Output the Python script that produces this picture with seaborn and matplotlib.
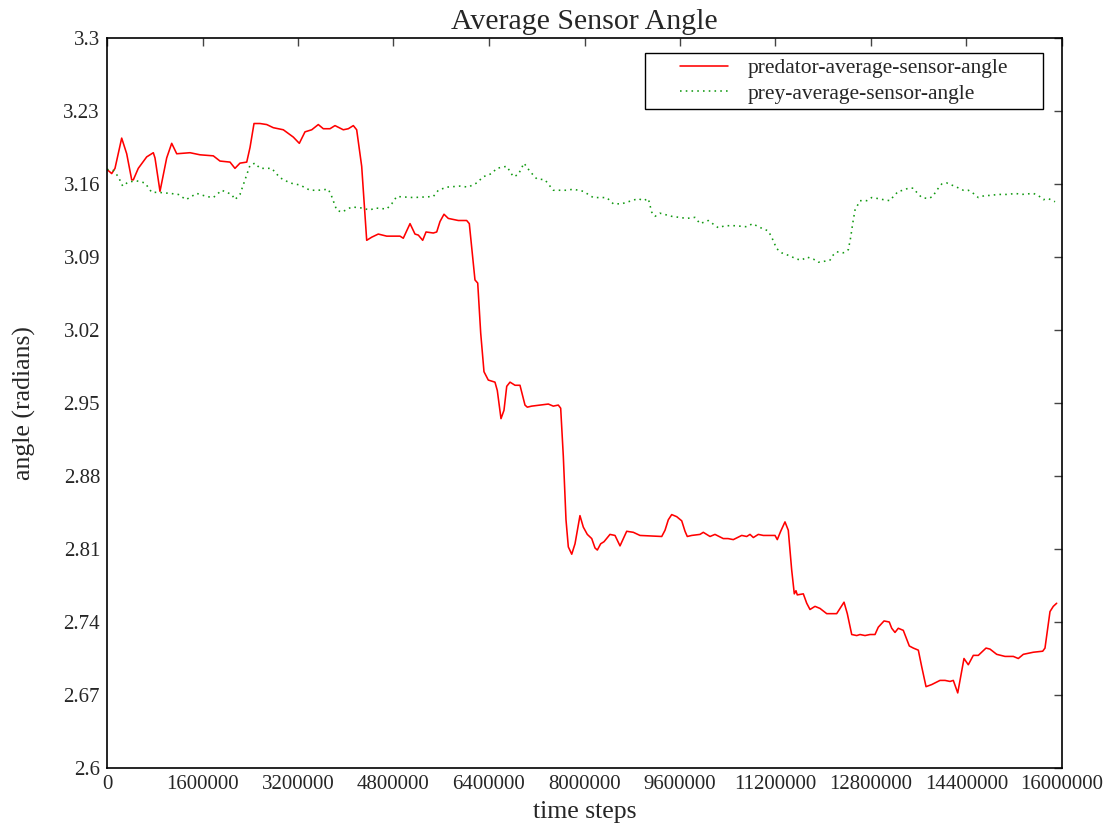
import numpy as np
import pandas as pd
import matplotlib
matplotlib.use("Agg")
import matplotlib.pyplot as plt
from matplotlib.patches import Rectangle
from matplotlib.transforms import IdentityTransform
import seaborn as sns

pred_steps = [0, 78700, 134000, 246000, 330000, 414000, 441000, 524000, 665000, 776000,
              804000, 888000, 1000000, 1084000, 1168000, 1391000, 1558000, 1781000, 1893000, 2061000,
              2144000, 2228000, 2341000, 2396000, 2463000, 2563000, 2676000, 2786000, 2954000, 3121000,
              3222000, 3317000, 3430000, 3540000, 3624000, 3736000, 3820000, 3959000, 4043000, 4127000,
              4183000, 4267000, 4351000, 4435000, 4545000, 4686000, 4909000, 4964000, 5077000, 5160000,
              5216000, 5289000, 5345000, 5467000, 5524000, 5579000, 5646000, 5718000, 5886000, 6026000,
              6070000, 6165000, 6211000, 6261000, 6316000, 6388000, 6500000, 6539000, 6601000, 6651000,
              6697000, 6752000, 6836000, 6919000, 7003000, 7042000, 7115000, 7394000, 7477000, 7561000,
              7601000, 7645000, 7690000, 7729000, 7786000, 7841000, 7924000, 7980000, 8047000, 8121000,
              8176000, 8215000, 8271000, 8327000, 8427000, 8511000, 8595000, 8650000, 8707000, 8818000,
              8930000, 9294000, 9349000, 9404000, 9461000, 9545000, 9629000, 9684000, 9722000, 9796000,
              9935000, 9990000, 10103000, 10186000, 10325000, 10404000, 10493000, 10634000, 10718000, 10773000,
              10829000, 10912000, 10996000, 11192000, 11230000, 11287000, 11359000, 11414000, 11471000, 11515000,
              11543000, 11565000, 11666000, 11723000, 11778000, 11862000, 11946000, 12058000, 12225000, 12281000,
              12348000, 12403000, 12477000, 12561000, 12616000, 12700000, 12784000, 12867000, 12922000, 13018000,
              13106000, 13147000, 13202000, 13257000, 13341000, 13442000, 13509000, 13593000, 13650000, 13722000,
              13817000, 13956000, 14040000, 14124000, 14179000, 14253000, 14358000, 14430000, 14514000, 14598000,
              14727000, 14794000, 14906000, 15045000, 15184000, 15268000, 15352000, 15519000, 15677000, 15715000,
              15799000, 15854000, 15911000]
pred_angle = [3.174, 3.170, 3.175, 3.204, 3.189, 3.164, 3.164, 3.175, 3.186, 3.190,
              3.185, 3.153, 3.185, 3.199, 3.189, 3.190, 3.188, 3.187, 3.182, 3.181,
              3.175, 3.180, 3.181, 3.195, 3.218, 3.218, 3.217, 3.214, 3.212, 3.205,
              3.199, 3.210, 3.212, 3.217, 3.213, 3.213, 3.216, 3.212, 3.213, 3.216,
              3.212, 3.177, 3.106, 3.109, 3.112, 3.110, 3.110, 3.108, 3.122, 3.112,
              3.111, 3.106, 3.114, 3.113, 3.114, 3.124, 3.131, 3.127, 3.125, 3.125,
              3.122, 3.068, 3.065, 3.017, 2.980, 2.972, 2.970, 2.962, 2.935, 2.943,
              2.966, 2.970, 2.967, 2.967, 2.948, 2.946, 2.947, 2.949, 2.947, 2.948,
              2.945, 2.899, 2.838, 2.812, 2.805, 2.815, 2.842, 2.831, 2.824, 2.820,
              2.811, 2.809, 2.815, 2.817, 2.824, 2.823, 2.813, 2.820, 2.827, 2.826,
              2.823, 2.822, 2.828, 2.838, 2.843, 2.841, 2.837, 2.827, 2.822, 2.823,
              2.824, 2.826, 2.822, 2.824, 2.820, 2.820, 2.819, 2.823, 2.822, 2.824,
              2.821, 2.824, 2.823, 2.823, 2.819, 2.827, 2.836, 2.828, 2.790, 2.767,
              2.770, 2.766, 2.767, 2.758, 2.752, 2.755, 2.753, 2.748, 2.748, 2.753,
              2.759, 2.748, 2.728, 2.727, 2.728, 2.727, 2.728, 2.728, 2.735, 2.741,
              2.740, 2.734, 2.730, 2.734, 2.732, 2.717, 2.715, 2.713, 2.697, 2.678,
              2.680, 2.684, 2.684, 2.683, 2.684, 2.672, 2.705, 2.699, 2.708, 2.708,
              2.715, 2.714, 2.709, 2.707, 2.707, 2.705, 2.709, 2.711, 2.712, 2.715,
              2.750, 2.755, 2.758]

prey_steps = [0, 106000, 189000, 263000, 357000, 498000, 637000, 749000, 859000, 1056000,
              1195000, 1324000, 1503000, 1670000, 1781000, 1922000, 2089000, 2144000, 2228000, 2312000,
              2396000, 2480000, 2563000, 2759000, 2898000, 3066000, 3234000, 3401000, 3540000, 3708000,
              3765000, 3848000, 3932000, 4100000, 4267000, 4406000, 4490000, 4686000, 4770000, 4854000,
              5132000, 5467000, 5551000, 5691000, 5914000, 6053000, 6194000, 6305000, 6445000, 6529000,
              6697000, 6807000, 6891000, 6986000, 7087000, 7199000, 7338000, 7477000, 7702000, 7812000,
              7980000, 8147000, 8372000, 8483000, 8623000, 8734000, 8901000, 8985000, 9069000, 9126000,
              9181000, 9265000, 9461000, 9712000, 9851000, 9935000, 10074000, 10242000, 10354000, 10521000,
              10717000, 10818000, 10912000, 10996000, 11079000, 11136000, 11220000, 11304000, 11443000, 11555000,
              11639000, 11723000, 11834000, 11917000, 12029000, 12113000, 12168000, 12225000, 12336000, 12420000,
              12460000, 12493000, 12532000, 12616000, 12728000, 12812000, 12922000, 13006000, 13118000, 13174000,
              13258000, 13341000, 13425000, 13509000, 13566000, 13650000, 13760000, 13834000, 13901000, 13985000,
              14069000, 14236000, 14347000, 14431000, 14514000, 14598000, 14710000, 14822000, 14906000, 15100000,
              15213000, 15325000, 15519000, 15603000, 15687000, 15771000, 15883000]
prey_angle = [3.174, 3.173, 3.167, 3.158, 3.162, 3.163, 3.161, 3.152, 3.152, 3.151,
              3.150, 3.145, 3.151, 3.148, 3.147, 3.154, 3.150, 3.145, 3.150, 3.164,
              3.178, 3.180, 3.175, 3.175, 3.166, 3.161, 3.159, 3.154, 3.154, 3.155,
              3.148, 3.135, 3.133, 3.138, 3.137, 3.135, 3.137, 3.136, 3.141, 3.148,
              3.147, 3.148, 3.154, 3.157, 3.158, 3.157, 3.161, 3.167, 3.170, 3.175,
              3.177, 3.167, 3.169, 3.180, 3.172, 3.165, 3.164, 3.154, 3.154, 3.155,
              3.153, 3.147, 3.147, 3.141, 3.141, 3.143, 3.146, 3.144, 3.146, 3.133,
              3.129, 3.132, 3.129, 3.127, 3.128, 3.122, 3.125, 3.118, 3.120, 3.120,
              3.119, 3.122, 3.119, 3.117, 3.115, 3.109, 3.098, 3.094, 3.091, 3.088,
              3.087, 3.090, 3.088, 3.085, 3.086, 3.087, 3.092, 3.095, 3.094, 3.097,
              3.109, 3.122, 3.135, 3.144, 3.144, 3.147, 3.146, 3.145, 3.144, 3.148,
              3.153, 3.154, 3.156, 3.156, 3.152, 3.147, 3.146, 3.148, 3.154, 3.160,
              3.161, 3.157, 3.154, 3.154, 3.151, 3.147, 3.149, 3.149, 3.150, 3.150,
              3.151, 3.150, 3.151, 3.149, 3.145, 3.146, 3.143]

x_ticks = [0, 1600000, 3200000, 4800000, 6400000, 8000000, 9600000, 11200000, 12800000, 14400000, 16000000]
y_ticks = [2.6, 2.67, 2.74, 2.81, 2.88, 2.95, 3.02, 3.09, 3.16, 3.23, 3.3]
y_tick_labels = ["2.6", "2.67", "2.74", "2.81", "2.88", "2.95", "3.02", "3.09", "3.16", "3.23", "3.3"]

series_pred = "predator-average-sensor-angle"
series_prey = "prey-average-sensor-angle"

df = pd.concat([
    pd.DataFrame({"step": pred_steps, "angle": pred_angle, "series": series_pred}),
    pd.DataFrame({"step": prey_steps, "angle": prey_angle, "series": series_prey}),
], ignore_index=True)

sns.set_style("white")
plt.rcParams["font.family"] = ["Liberation Serif", "DejaVu Serif"]

fig = plt.figure(figsize=(11.14, 8.32), dpi=100)
ax = fig.add_axes([107/1114, 1 - 768/832, (1062-107)/1114, (768-38)/832])

sns.lineplot(data=df, x="step", y="angle", hue="series", style="series",
             palette={series_pred: "#ff0000", series_prey: "#119911"},
             dashes={series_pred: "", series_prey: (1, 2.6)},
             linewidth=1.15, ax=ax, legend=True, estimator=None, sort=False)

ax.set_xlim(0, 16000000)
ax.set_ylim(2.6, 3.3)
ax.set_xticks(x_ticks)
ax.set_xticklabels([str(t) for t in x_ticks])
ax.set_yticks(y_ticks)
ax.set_yticklabels(y_tick_labels)
ax.tick_params(direction="in", length=6, width=1, top=True, right=True,
               labelsize=15, pad=5, color="#444444")
for s in ax.spines.values():
    s.set_visible(True)
    s.set_color("black")
    s.set_linewidth(1.2)

ax.set_title("Average Sensor Angle", fontsize=21.5, pad=6.5)
ax.set_xlabel("time steps", fontsize=18.5, labelpad=5)
ax.set_ylabel("angle (radians)", fontsize=18.5, labelpad=20)

leg = ax.legend(loc="upper right", bbox_to_anchor=(1012/1114, 1 - 54/832),
                bbox_transform=fig.transFigure, frameon=False,
                fontsize=15.5, handlelength=2.2, handletextpad=0.9,
                borderpad=0.2, labelspacing=0.25, borderaxespad=0)
leg.set_title(None)
leg.set_zorder(6)

# frame around the legend with gnuplot-like wide horizontal padding
fig.canvas.draw()
bb = leg.get_window_extent()
hpad, vpad = 31, 1
frame = Rectangle((bb.x0 - hpad, bb.y0 - vpad), bb.width + 2 * hpad, bb.height + 2 * vpad,
                  transform=IdentityTransform(), fill=True, facecolor="white", edgecolor="black",
                  linewidth=1.0, zorder=5.5, clip_on=False)
ax.add_patch(frame)
frame.set_transform(IdentityTransform())

fig.savefig("out.png", dpi=100)
